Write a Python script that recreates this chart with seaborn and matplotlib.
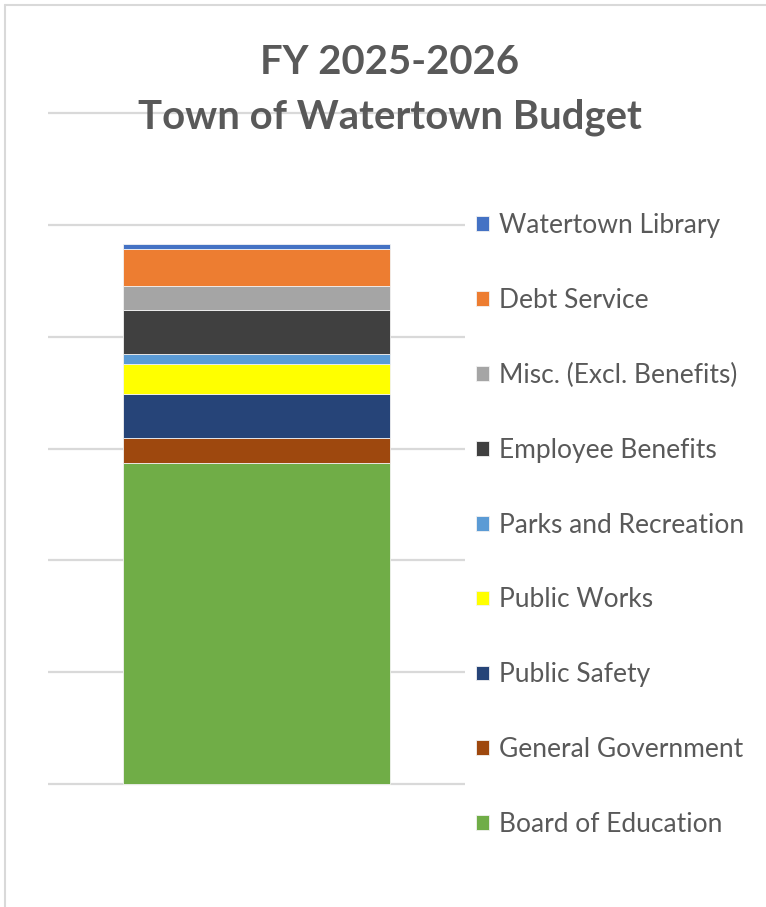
import matplotlib
matplotlib.use('Agg')
from matplotlib import pyplot as plt
from matplotlib.lines import Line2D
import seaborn as sns
import pandas as pd

# budget segments, bottom to top ($ millions)
categories = ["Board of Education", "General Government", "Public Safety", "Public Works",
              "Parks and Recreation", "Employee Benefits", "Misc. (Excl. Benefits)",
              "Debt Service", "Watertown Library"]
amounts = [57.4, 4.5, 7.9, 5.4, 1.7, 7.9, 4.2, 6.7, 0.9]
colors = ["#70AD47", "#9E480E", "#264478", "#FFFF00", "#5B9BD5",
          "#404040", "#A5A5A5", "#ED7D31", "#4472C4"]
grid_ticks = [0, 20, 40, 60, 80, 100, 120]

df = pd.DataFrame({"budget": ["FY 2025-2026"] * len(categories),
                   "category": categories, "amount": amounts})
df["bottom"] = df["amount"].cumsum() - df["amount"]

sns.set_style("white")
plt.rcParams['font.family'] = ['Lato', 'DejaVu Sans']
text_grey = "#595959"

fig = plt.figure(figsize=(7.66, 9.07), dpi=100)
ax = fig.add_axes([48 / 766, 0.1233, 417 / 766, 0.7643])

for i, row in df.iterrows():
    sns.barplot(data=df.iloc[[i]], x="budget", y="amount", bottom=row["bottom"],
                color=colors[i], saturation=1, width=0.64, label=row["category"],
                edgecolor="#f2f2f2", linewidth=0.6, ax=ax, zorder=3)

ax.set_xlim(-0.5, 0.5)
ax.set_ylim(-2, 122)
ax.set_yticks(grid_ticks)
ax.grid(axis="y", color="#D9D9D9", linewidth=1.6, zorder=0)
ax.set_axisbelow(True)
ax.tick_params(left=False, bottom=False, labelleft=False, labelbottom=False)
ax.set_xlabel("")
ax.set_ylabel("")
for s in ax.spines.values():
    s.set_visible(False)

handles, labels = ax.get_legend_handles_labels()
if ax.get_legend() is not None:
    ax.get_legend().remove()
fig.legend(handles[::-1], labels[::-1], loc="upper left",
           bbox_to_anchor=(476 / 766, 1 - 213 / 907), frameon=False,
           fontsize=19, labelcolor=text_grey, borderpad=0, borderaxespad=0,
           handlelength=0.48, handleheight=0.48, handletextpad=0.38, labelspacing=1.89)

fig.text(390 / 766, 1 - 63 / 907, "FY 2025-2026", ha="center", va="center",
         fontsize=28.8, fontweight="bold", color=text_grey, zorder=5)
fig.text(390 / 766, 1 - 117 / 907, "Town of Watertown Budget", ha="center", va="center",
         fontsize=28.8, fontweight="bold", color=text_grey, zorder=5)

# chart area border (left and top edges)
fig.add_artist(Line2D([5 / 766, 5 / 766], [0, 1 - 5 / 907], transform=fig.transFigure,
                      color="#D9D9D9", linewidth=1.5))
fig.add_artist(Line2D([5 / 766, 1], [1 - 5 / 907, 1 - 5 / 907], transform=fig.transFigure,
                      color="#D9D9D9", linewidth=1.5))

fig.savefig("out.png", dpi=100)
